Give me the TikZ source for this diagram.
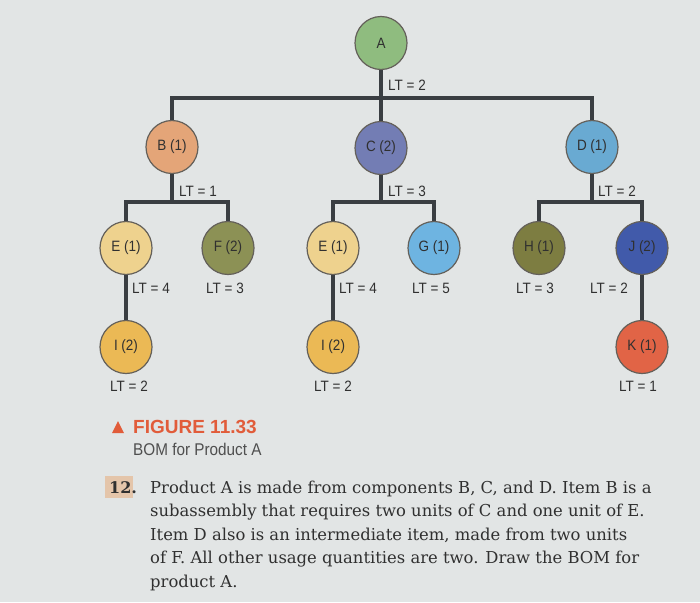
\documentclass[tikz,border=0pt]{standalone}
\usepackage{fontspec}
\setsansfont[FakeStretch=0.9]{Liberation Sans}
\newfontfamily\bookfont{DejaVu Serif}
\newfontfamily\capfont{Liberation Sans}
\usetikzlibrary{shapes.geometric}
\definecolor{paper}{RGB}{226,229,229}
\definecolor{linegray}{RGB}{58,62,66}
\definecolor{rimgray}{RGB}{100,96,90}
\definecolor{inkgray}{RGB}{48,48,48}
\definecolor{figorange}{RGB}{225,92,58}
\definecolor{markbox}{RGB}{228,197,170}
\definecolor{colA}{RGB}{143,188,127}
\definecolor{colB}{RGB}{228,165,120}
\definecolor{colC}{RGB}{115,125,180}
\definecolor{colD}{RGB}{105,170,210}
\definecolor{colE}{RGB}{238,210,142}
\definecolor{colF}{RGB}{140,145,85}
\definecolor{colG}{RGB}{110,180,225}
\definecolor{colH}{RGB}{125,125,65}
\definecolor{colI}{RGB}{235,185,85}
\definecolor{colJ}{RGB}{65,90,170}
\definecolor{colK}{RGB}{225,100,70}
\begin{document}
\begin{tikzpicture}[x=1pt,y=-1pt,
  part/.style={ellipse,draw=rimgray,line width=1.2pt,minimum width=52pt,minimum height=53pt,
    inner sep=0pt,text=inkgray,font=\sffamily\fontsize{15}{17}\selectfont},
  lt/.style={inner sep=0pt,text=inkgray,font=\sffamily\fontsize{15}{17}\selectfont},
  task/.style={anchor=base west,inner sep=0pt,text=inkgray,font=\bookfont\fontsize{16.4}{18}\selectfont},
  link/.style={draw=linegray,line width=3.1pt}]
\fill[paper] (0,0) rectangle (700,602);
\useasboundingbox (0,0) rectangle (700,602);
% level 0 and 1
\node[part,fill=colA] (a) at (381,43) {A};
\node[part,fill=colB] (b) at (172,147) {B (1)};
\node[part,fill=colC] (c) at (381,148) {C (2)};
\node[part,fill=colD] (d) at (592,147) {D (1)};
% level 2
\node[part,fill=colE] (e1) at (126,248) {E (1)};
\node[part,fill=colF] (f) at (228,248) {F (2)};
\node[part,fill=colE] (e2) at (333,248) {E (1)};
\node[part,fill=colG] (g) at (434,248) {G (1)};
\node[part,fill=colH] (h) at (539,248) {H (1)};
\node[part,fill=colJ] (j) at (642,248) {J (2)};
% level 3
\node[part,fill=colI] (i1) at (126,347) {I (2)};
\node[part,fill=colI] (i2) at (333,347) {I (2)};
\node[part,fill=colK] (k) at (642,347) {K (1)};
\coordinate (abar) at (381,98);
\coordinate (bbar) at (172,202);
\coordinate (cbar) at (381,202);
\coordinate (dbar) at (592,202);
\draw[link] (a.south) -- (abar);
\draw[link] (b.north) |- (abar) -| (d.north);
\draw[link] (c.north) -- (c.north |- abar);
\draw[link] (b.south) -- (bbar);
\draw[link] (e1.north) |- (bbar) -| (f.north);
\draw[link] (c.south) -- (cbar);
\draw[link] (e2.north) |- (cbar) -| (g.north);
\draw[link] (d.south) -- (dbar);
\draw[link] (h.north) |- (dbar) -| (j.north);
\draw[link] (e1.south) -- (i1.north);
\draw[link] (e2.south) -- (i2.north);
\draw[link] (j.south) -- (k.north);
% lead times
\node[lt,anchor=west] (lta) at (388,85) {LT = 2};
\node[lt,anchor=west] (ltb) at (179,191) {LT = 1};
\node[lt,anchor=west] (ltc) at (388,191) {LT = 3};
\node[lt,anchor=west] (ltd) at (598,191) {LT = 2};
\node[lt,anchor=west] (lte1) at (132,288) {LT = 4};
\node[lt,anchor=west] (ltf) at (206,288) {LT = 3};
\node[lt,anchor=west] (lte2) at (339,288) {LT = 4};
\node[lt,anchor=west] (ltg) at (412,288) {LT = 5};
\node[lt,anchor=west] (lth) at (516,288) {LT = 3};
\node[lt,anchor=west] (ltj) at (590,288) {LT = 2};
\node[lt] (lti1) at (129,386) {LT = 2};
\node[lt] (lti2) at (333,386) {LT = 2};
\node[lt] (ltk) at (638,386) {LT = 1};
% caption
\fill[figorange] (112,433) -- (124,433) -- (118,421) -- cycle;
\node[anchor=base west,inner sep=0pt,text=figorange,font=\capfont\bfseries\fontsize{19}{21}\selectfont]
  (fig) at (133,433) {FIGURE 11.33};
\node[anchor=base west,inner sep=0pt,text=inkgray!85,font=\sffamily\fontsize{17}{19}\selectfont]
  (bom) at (133,455) {BOM for Product A};
% exercise
\fill[markbox] (105,476) rectangle (133,498);
\node[task,font=\bookfont\bfseries\fontsize{16}{18}\selectfont] (num) at (109,493) {12.};
\node[task] (task1) at (150,493) {Product A is made from components B, C, and D. Item B is a};
\node[task] (task2) at (150,516.5) {subassembly that requires two units of C and one unit of E.};
\node[task] (task3) at (150,540) {Item D also is an intermediate item, made from two units};
\node[task] (task4) at (150,563.5) {of F. All other usage quantities are two. Draw the BOM for};
\node[task] (task5) at (150,587) {product A.};
\end{tikzpicture}
\end{document}
